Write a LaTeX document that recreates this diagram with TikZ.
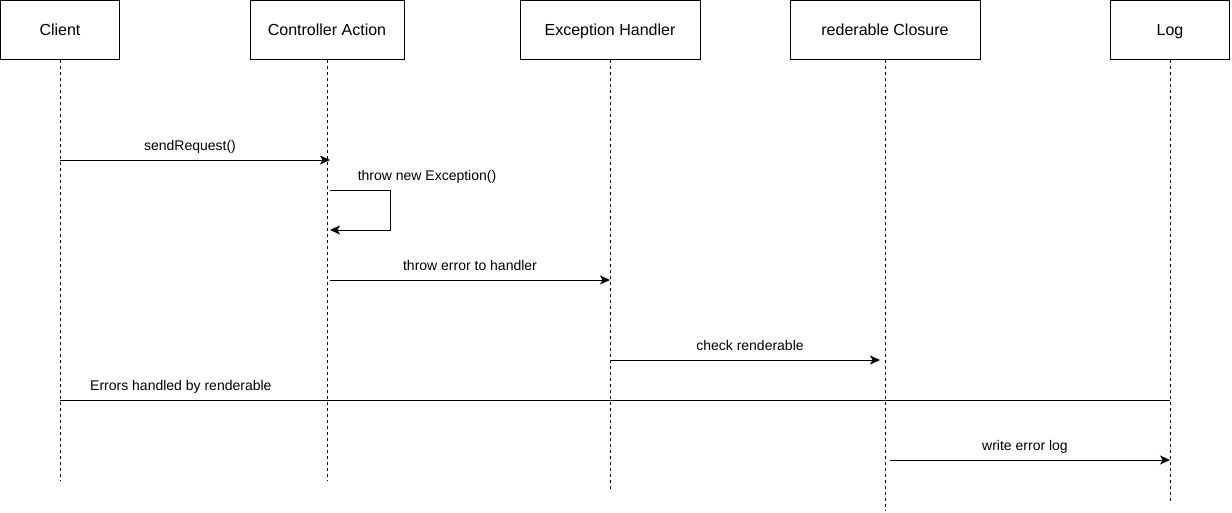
\documentclass[tikz,border=0pt]{standalone}
\usepackage{fontspec}
\setmainfont{Liberation Sans}
\usetikzlibrary{arrows.meta}
\usetikzlibrary{positioning}
\tikzset{
  actor/.style={shape=rectangle,draw=black,line width=1pt,minimum height=59pt,inner sep=0,text height=11.5pt,text depth=0pt,font=\fontsize{16}{18}\selectfont},
  lifeline/.style={draw=black,line width=1pt,dash pattern=on 3pt off 3pt},
  msg/.style={draw=black,line width=1pt,-{Stealth[length=10pt,width=9pt,inset=2.5pt]}},
  plain/.style={draw=black,line width=1pt},
  msglabel/.style={font=\fontsize{14}{16}\selectfont,inner sep=2pt,text height=10pt,text depth=0pt}
}
\begin{document}
\begin{tikzpicture}[x=1pt,y=-1pt]
      \useasboundingbox (0,0) rectangle (1232,512);
      % participants
      \node[actor,minimum width=119pt] (client) at (60,30) {Client};
      \node[actor,minimum width=154pt] (ctrl) at (327,30) {Controller Action};
      \node[actor,minimum width=180pt] (handler) at (610,30) {Exception Handler};
      \node[actor,minimum width=190pt] (closure) at (885,30) {rederable Closure};
      \node[actor,minimum width=119pt] (log) at (1170,30) {Log};
      % lifeline ends
      \coordinate (client-end) at (client.south |- 0,481);
      \coordinate (ctrl-end) at (ctrl.south |- 0,481);
      \coordinate (handler-end) at (handler.south |- 0,491);
      \coordinate (closure-end) at (closure.south |- 0,511);
      \coordinate (log-end) at (log.south |- 0,501);
      \begin{scope}
        \draw[lifeline] (client) -- (client-end);
        \draw[lifeline] (ctrl) -- (ctrl-end);
        \draw[lifeline] (handler) -- (handler-end);
        \draw[lifeline] (closure) -- (closure-end);
        \draw[lifeline] (log) -- (log-end);
      \end{scope}
      % message ends
      \coordinate (m1a) at (client.center |- 0,160);
      \coordinate (m1b) at ([xshift=3pt]ctrl.center |- 0,160);
      \coordinate (m2a) at ([xshift=3pt]ctrl.center |- 0,190);
      \coordinate (m2b) at ([xshift=3pt]ctrl.center |- 0,230);
      \coordinate (m3a) at ([xshift=3pt]ctrl.center |- 0,280);
      \coordinate (m3b) at (handler.center |- 0,280);
      \coordinate (m4a) at (handler.center |- 0,360);
      \coordinate (m4b) at ([xshift=-5pt]closure.center |- 0,360);
      \coordinate (m5a) at (client.center |- 0,400);
      \coordinate (m5b) at (log.center |- 0,400);
      \coordinate (m6a) at ([xshift=5pt]closure.center |- 0,460);
      \coordinate (m6b) at (log.center |- 0,460);
      \begin{scope}
        \draw[msg] (m1a) -- (m1b);
        \node[msglabel] (m1label) at (190,145) {sendRequest()};
        \draw[msg] (m2a) -- ++(60,0) |- (m2b);
        \node[msglabel] (m2label) at (427,175) {throw new Exception()};
        \draw[msg] (m3a) -- (m3b);
        \node[msglabel] (m3label) at (470,265) {throw error to handler};
        \draw[msg] (m4a) -- (m4b);
        \node[msglabel] (m4label) at (750,345) {check renderable};
        \draw[plain] (m5a) -- (m5b);
        \node[msglabel,anchor=west] (m5label) at (88,385) {Errors handled by renderable};
        \draw[msg] (m6a) -- (m6b);
        \node[msglabel] (m6label) at (1025,445) {write error log};
      \end{scope}
    \end{tikzpicture}
\end{document}
